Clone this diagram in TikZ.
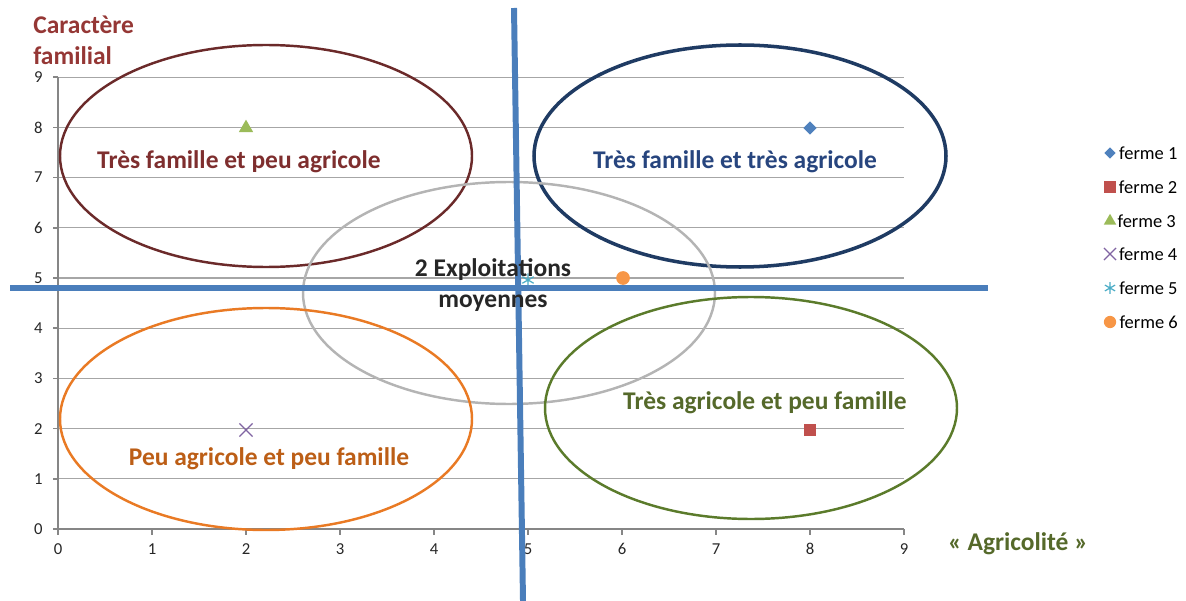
\documentclass[tikz,border=0pt]{standalone}
\usepackage{fontspec}
\setmainfont{Carlito}
\usepackage{tikz}
\usetikzlibrary{positioning}
\usetikzlibrary{shapes}

\definecolor{sepblue}{HTML}{4A7EBB}
\definecolor{gridgray}{HTML}{A6A6A6}
\definecolor{axisgray}{HTML}{868686}
\definecolor{maroonline}{HTML}{6B2A2A}
\definecolor{maroontext}{HTML}{7E2E2E}
\definecolor{titlered}{HTML}{953735}
\definecolor{navyline}{HTML}{1F3B63}
\definecolor{navytext}{HTML}{27457E}
\definecolor{midgray}{HTML}{B4B4B4}
\definecolor{orangeline}{HTML}{E97A24}
\definecolor{orangetext}{HTML}{BC5E16}
\definecolor{greenline}{HTML}{5B7B2B}
\definecolor{greentext}{HTML}{55692A}
\definecolor{c1}{HTML}{4F81BD}
\definecolor{c2}{HTML}{C0504D}
\definecolor{c3}{HTML}{9BBB59}
\definecolor{c4}{HTML}{8064A2}
\definecolor{c5}{HTML}{4BACC6}
\definecolor{c6}{HTML}{F79646}

\begin{document}
\begin{tikzpicture}[x=0.02cm, y=-0.02cm,
		grid/.style={draw=gridgray, line width=0.6pt},
		axe/.style={draw=axisgray, line width=0.8pt},
		zone/.style={line width=1.4pt},
		lbl/.style={font=\fontsize{14.5}{17.5}\selectfont\bfseries, inner sep=0pt},
		tick/.style={font=\fontsize{9.5}{11}\selectfont, text=black!85, inner sep=0pt},
		leg/.style={font=\fontsize{10.5}{12}\selectfont, inner sep=0pt, anchor=west},
		sep/.style={draw=sepblue, line width=3.4pt},
		mk1/.style={diamond, fill=c1, inner sep=0pt, minimum size=7.6pt},
		mk2/.style={rectangle, fill=c2, inner sep=0pt, minimum size=7.2pt},
		mk3/.style={regular polygon, regular polygon sides=3, fill=c3, inner sep=0pt, minimum size=9.5pt},
		mk4/.style={cross out, draw=c4, line width=0.7pt, inner sep=0pt, minimum size=6.8pt},
		mk5/.style={circle, inner sep=0pt, minimum size=7.6pt,
			path picture={\draw[c5, line width=0.7pt]
				(path picture bounding box.north) -- (path picture bounding box.south)
				(path picture bounding box.center) ++(30:5pt) -- ++(210:10pt)
				(path picture bounding box.center) ++(150:5pt) -- ++(330:10pt);}},
		mk6/.style={circle, fill=c6, inner sep=0pt, minimum size=7.8pt}]
	\useasboundingbox (0,0) rectangle (1186,601);

	% grille et axes
	\foreach \k in {1,...,9}
		\draw[grid] (58,{529-50.2*\k}) -- (904,{529-50.2*\k});
	\draw[axe] (58,77) -- (58,533);
	\draw[axe] (53,529) -- (904,529);
	\foreach \k in {0,...,9} {
		\draw[axe] (53,{529-50.2*\k}) -- (58,{529-50.2*\k});
		\draw[axe] ({58+94*\k},529) -- ({58+94*\k},535);
		\node[tick, anchor=east] (y\k) at (43,{529-50.2*\k}) {\k};
		\node[tick] (x\k) at ({58+94*\k},549) {\k};
	}

	% zones
	\draw[zone, maroonline] (266,156) ellipse [x radius=206, y radius=111];
	\draw[zone, navyline, line width=2pt] (740,156) ellipse [x radius=206, y radius=111];
	\draw[zone, midgray] (509,293) ellipse [x radius=206, y radius=111];
	\draw[zone, orangeline] (266,419) ellipse [x radius=206, y radius=111];
	\draw[zone, greenline] (751,408) ellipse [x radius=206, y radius=111];

	% fermes
	\node[mk1] (f1) at (810,128) {};
	\node[mk2] (f2) at (810,430) {};
	\node[mk3] (f3) at (246,128) {};
	\node[mk4] (f4) at (246,430) {};
	\node[mk5] (f5) at (528,280) {};
	\node[mk6] (f6) at (623,278) {};

	% separations
	\coordinate (vtop) at (514,8);
	\coordinate (vbot) at (523,601);
	\coordinate (hgauche) at (10,288);
	\coordinate (hdroite) at (988,288);
	\draw[sep] (vtop) -- (vbot);
	\draw[sep] (hgauche) -- (hdroite);

	% textes
	\node[lbl, text=maroontext] (tfpa) at (239,162) {Très famille et peu agricole};
	\node[lbl, text=navytext] (tfta) at (735,162) {Très famille et très agricole};
	\node[lbl, text=orangetext] (papf) at (269,459) {Peu agricole et peu famille};
	\node[lbl, text=greentext] (tapf) at (765,403) {Très agricole et peu famille};
	\node[lbl, text=black!85, align=center] (moy) at (493,285) {2 Exploitations\\moyennes};
	\node[lbl, text=titlered, align=left, anchor=west] (caract) at (33,40) {Caractère\\familial};
	\node[lbl, text=greentext] (agri) at (1018,544) {« Agricolité »};

	% legende
	\node[mk1, minimum size=6.6pt] (l1) at (1110,153) {};
	\node[mk2, minimum size=6.4pt] (l2) at (1110,187) {};
	\node[mk3, minimum size=8.2pt] (l3) at (1110,221) {};
	\node[mk4, minimum size=6.2pt] (l4) at (1110,254) {};
	\node[mk5, minimum size=6.8pt] (l5) at (1110,288) {};
	\node[mk6, minimum size=7pt] (l6) at (1110,322) {};
	\node[leg, right=1.5pt of l1] (t1) {ferme 1};
	\node[leg, right=1.5pt of l2] (t2) {ferme 2};
	\node[leg, right=1.5pt of l3] (t3) {ferme 3};
	\node[leg, right=1.5pt of l4] (t4) {ferme 4};
	\node[leg, right=1.5pt of l5] (t5) {ferme 5};
	\node[leg, right=1.5pt of l6] (t6) {ferme 6};
\end{tikzpicture}
\end{document}
